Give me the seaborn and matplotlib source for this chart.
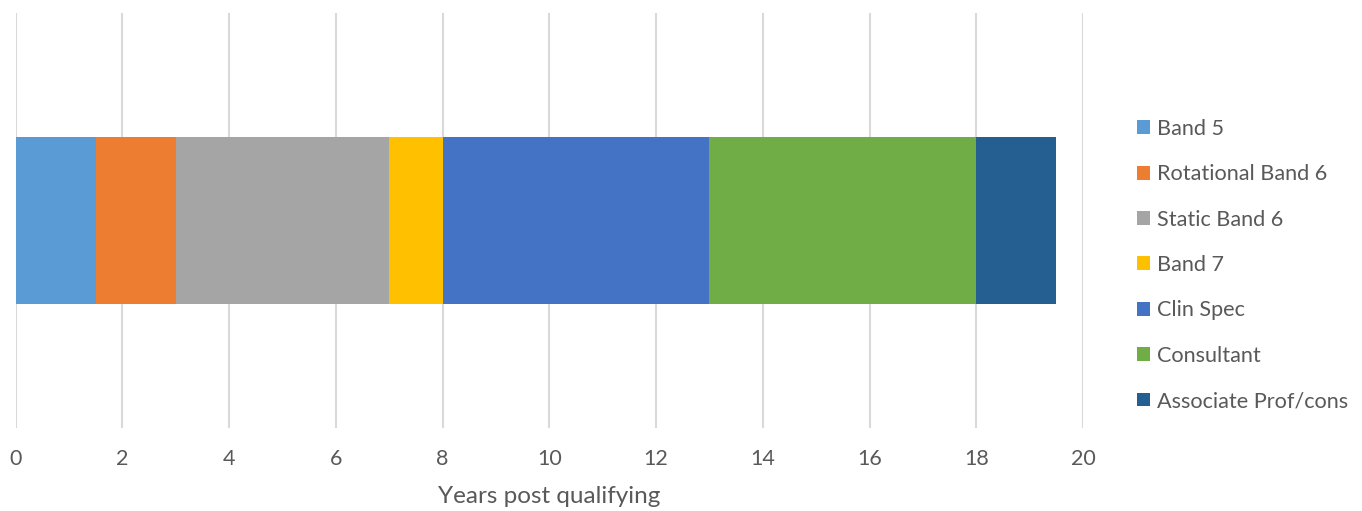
import numpy as np
import pandas as pd
import matplotlib
matplotlib.use("Agg")
import matplotlib.pyplot as plt
from matplotlib.patches import Patch
import seaborn as sns

stages = ["Band 5", "Rotational Band 6", "Static Band 6", "Band 7",
          "Clin Spec", "Consultant", "Associate Prof/cons"]
durations = [1.5, 1.5, 4, 1, 5, 5, 1.5]
colors = ["#5B9BD5", "#ED7D31", "#A5A5A5", "#FFC000",
          "#4472C4", "#70AD47", "#255E91"]
xticks = [0, 2, 4, 6, 8, 10, 12, 14, 16, 18, 20]

sns.set_theme(style="white")
plt.rcParams["font.family"] = ["Lato", "DejaVu Sans"]
text_color = "#595959"

fig = plt.figure(figsize=(13.62, 5.11), dpi=100)
ax = fig.add_axes([0.0114, 0.1624, 0.7838, 0.8122])

cum = np.cumsum(durations)
df = pd.DataFrame({"stage": stages, "end": cum, "row": [""] * len(stages)})

for i in range(len(stages) - 1, -1, -1):
    sub = df.iloc[[i]]
    sns.barplot(data=sub, x="end", y="row", orient="h", color=colors[i],
                width=0.4, saturation=1, linewidth=0, edgecolor="none",
                ax=ax, zorder=3)

ax.set_xlim(0, 20)
ax.set_ylim(0.5, -0.5)
ax.set_xticks(xticks)
ax.set_xticklabels([str(t) for t in xticks], fontsize=15.5, color=text_color)
ax.set_yticks([])
ax.set_ylabel("")
ax.set_xlabel("Years post qualifying", fontsize=17.5, color=text_color, labelpad=12)
ax.tick_params(axis="x", length=0, pad=15)
ax.grid(axis="x", color="#D9D9D9", linewidth=1.5, zorder=0)
ax.set_axisbelow(True)
for s in ax.spines.values():
    s.set_visible(False)

handles = [Patch(facecolor=c, edgecolor="none", label=l) for c, l in zip(colors, stages)]
leg = fig.legend(handles=handles, loc="center left", bbox_to_anchor=(0.8205, 0.4814),
                 frameon=False, fontsize=15.6, handlelength=0.6, handleheight=0.6,
                 handletextpad=0.33, labelspacing=1.17, labelcolor=text_color)

fig.savefig("out.png", dpi=100, facecolor="white")
